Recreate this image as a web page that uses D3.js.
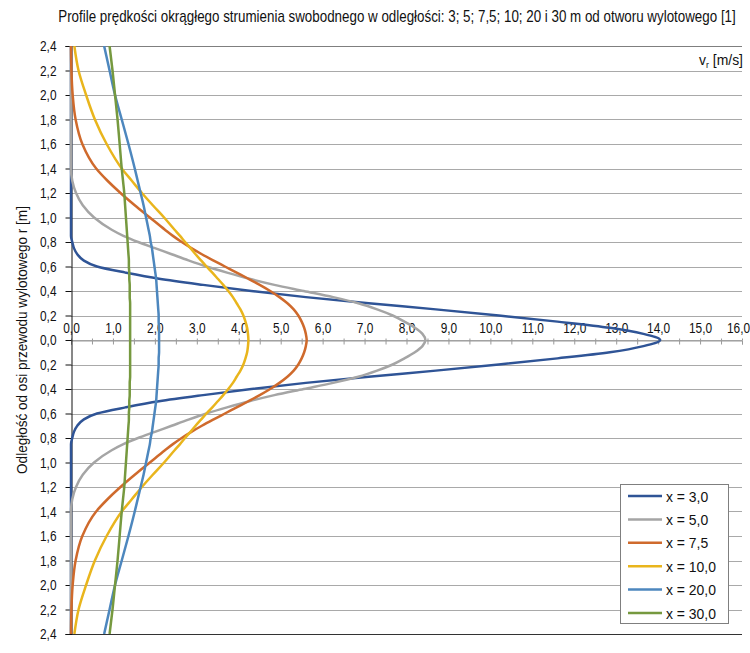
<!DOCTYPE html>
<html>
<head>
<meta charset="utf-8">
<script src="https://cdn.jsdelivr.net/npm/d3@7"></script>
<style>
  html, body { margin: 0; padding: 0; background: #fff; }
  svg { display: block; }
  text { font-family: "Liberation Sans", Arial, sans-serif; fill: #111; }
</style>
</head>
<body>
<svg id="chart" width="750" height="653"></svg>
<script>
// ---- Data ----
const titleText = "Profile prędkości okrągłego strumienia swobodnego w odległości: 3; 5; 7,5; 10; 20 i 30 m od otworu wylotowego [1]";
const yAxisTitle = "Odległość od osi przewodu wylotowego r [m]";
const seriesLabels = ["x = 3,0", "x = 5,0", "x = 7,5", "x = 10,0", "x = 20,0", "x = 30,0"];
const seriesColors = ["#2f5496", "#a5a5a5", "#cf6a2c", "#e9b51c", "#4d87be", "#76993f"];

// radial distance from the jet axis r [m] (profile is symmetric about r = 0)
const radii = [0, 0.05, 0.1, 0.15, 0.2, 0.25, 0.3, 0.35, 0.4, 0.45, 0.5, 0.55, 0.6, 0.65, 0.7, 0.75, 0.8, 0.85, 0.9, 1.0, 1.1, 1.2, 1.3, 1.4, 1.6, 1.8, 2.0, 2.2, 2.4];

// velocity v_r [m/s] at each radius
const vX3  = [14.05, 13.65, 12.85, 11.6, 10.2, 8.7, 7.1, 5.6, 4.3, 3.15, 2.1, 1.3, 0.62, 0.3, 0.15, 0.07, 0.03, 0, 0, 0, 0, 0, 0, 0, 0, 0, 0, 0, 0];
const vX5  = [8.45, 8.38, 8.2, 7.95, 7.67, 7.3, 6.85, 6.25, 5.55, 4.85, 4.25, 3.72, 3.23, 2.8, 2.4, 2.0, 1.6, 1.25, 0.97, 0.55, 0.28, 0.12, 0.03, 0, 0, 0, 0, 0, 0];
const vX75 = [5.62, 5.6, 5.56, 5.5, 5.42, 5.31, 5.16, 4.97, 4.75, 4.5, 4.23, 3.95, 3.67, 3.39, 3.12, 2.87, 2.64, 2.43, 2.24, 1.88, 1.52, 1.18, 0.87, 0.6, 0.27, 0.11, 0.04, 0.01, 0];
const vX10 = [4.23, 4.22, 4.2, 4.16, 4.11, 4.04, 3.95, 3.86, 3.75, 3.63, 3.5, 3.37, 3.23, 3.1, 2.97, 2.85, 2.72, 2.6, 2.47, 2.22, 1.95, 1.69, 1.45, 1.21, 0.85, 0.57, 0.36, 0.18, 0.08];
const vX20 = [2.1, 2.1, 2.1, 2.09, 2.09, 2.08, 2.07, 2.06, 2.05, 2.04, 2.03, 2.01, 1.99, 1.97, 1.95, 1.93, 1.9, 1.88, 1.85, 1.79, 1.73, 1.66, 1.59, 1.52, 1.37, 1.21, 1.05, 0.92, 0.79];
const vX30 = [1.41, 1.41, 1.41, 1.41, 1.41, 1.41, 1.41, 1.4, 1.4, 1.4, 1.39, 1.39, 1.38, 1.38, 1.37, 1.36, 1.35, 1.34, 1.33, 1.31, 1.29, 1.27, 1.24, 1.21, 1.16, 1.11, 1.05, 0.99, 0.92];
const seriesValues = [vX3, vX5, vX75, vX10, vX20, vX30];

const xTickValues = [0, 1, 2, 3, 4, 5, 6, 7, 8, 9, 10, 11, 12, 13, 14, 15, 16];
const xMinorTickValues = d3.range(0, 33).map(i => i * 0.5);
const yTickValues = d3.range(-12, 13).map(i => +(i * 0.2).toFixed(1));

// ---- Chart ----
const svg = d3.select("#chart");
const x = d3.scaleLinear().domain([0, 16]).range([71, 742]);
const y = d3.scaleLinear().domain([-2.4, 2.4]).range([634, 46]);
const fmt = d => Math.abs(d).toFixed(1).replace(".", ",");
const FONT = '"Liberation Sans", Arial, sans-serif';

// horizontally condense a text element (emulates a narrow typeface)
function condense(node, sx) {
  const sel = d3.select(node);
  const tx = +(sel.attr("x") || 0);
  const prev = sel.attr("transform") || "";
  sel.attr("x", 0).attr("transform", `${prev} translate(${tx},0) scale(${sx},1)`);
}
function fitWidth(node, w) {
  const len = node.getComputedTextLength();
  condense(node, w / len);
}

// title
const title = svg.append("text")
  .attr("x", 397).attr("y", 22)
  .attr("text-anchor", "middle")
  .style("font-size", "16px")
  .text(titleText);
fitWidth(title.node(), 678);

// horizontal gridlines
svg.append("g").selectAll("line")
  .data(yTickValues)
  .join("line")
  .attr("x1", x(0)).attr("x2", x(16))
  .attr("y1", d => Math.round(y(d)) + 0.5).attr("y2", d => Math.round(y(d)) + 0.5)
  .attr("stroke", d => d === 2.4 ? "#7f7f7f" : (d === -2.4 ? "#333" : "#a9a9a9"))
  .attr("stroke-width", 1);

// x axis at r = 0: minor tick marks
const xTicksG = svg.append("g")
  .attr("transform", `translate(0,${Math.round(y(0)) + 0.5})`)
  .call(d3.axisBottom(x).tickValues(xMinorTickValues).tickSize(4).tickFormat(""));
xTicksG.select(".domain").attr("stroke", "#9a9a9a");
xTicksG.selectAll(".tick line").attr("stroke", "#9a9a9a");
const xTicksUp = svg.append("g")
  .attr("transform", `translate(0,${Math.round(y(0)) + 0.5})`)
  .call(d3.axisTop(x).tickValues(xMinorTickValues).tickSize(2).tickFormat(""));
xTicksUp.select(".domain").remove();
xTicksUp.selectAll(".tick line").attr("stroke", "#9a9a9a");

// x axis labels (above the axis)
const xLab = svg.append("g")
  .attr("transform", `translate(0,${Math.round(y(0)) + 0.5})`)
  .call(d3.axisTop(x).tickValues(xTickValues).tickSize(0).tickPadding(8).tickFormat(fmt));
xLab.select(".domain").remove();
xLab.selectAll("text")
  .style("font-size", "14.5px")
  .style("font-family", FONT)
  .attr("fill", "#111")
  .each(function (d) { if (d === 16) d3.select(this).attr("x", -4); condense(this, 0.82); });

// y axis
const yAx = svg.append("g")
  .attr("transform", `translate(${x(0) + 0.5},0)`)
  .call(d3.axisLeft(y).tickValues(yTickValues).tickSize(6).tickPadding(9).tickFormat(fmt));
yAx.select(".domain").attr("stroke", "#111");
yAx.selectAll(".tick line").attr("stroke", "#111");
yAx.selectAll("text")
  .style("font-size", "14.5px")
  .style("font-family", FONT)
  .attr("fill", "#111")
  .each(function () { condense(this, 0.82); });

// y axis title
const yt = svg.append("text")
  .attr("transform", `translate(27,${y(0)}) rotate(-90)`)
  .attr("text-anchor", "middle")
  .style("font-size", "15px")
  .text(yAxisTitle);
fitWidth(yt.node(), 268);

// v_r [m/s] label
const vl = svg.append("text")
  .attr("x", 743).attr("y", 65)
  .attr("text-anchor", "end")
  .style("font-size", "15px");
vl.append("tspan").text("v");
vl.append("tspan").attr("dy", 3).style("font-size", "9.5px").text("r");
vl.append("tspan").attr("dy", -3).text(" [m/s]");
fitWidth(vl.node(), 44);

// curves
svg.append("clipPath").attr("id", "plotclip")
  .append("rect").attr("x", x(0) - 2).attr("y", y(2.4)).attr("width", x(16) - x(0) + 4).attr("height", y(-2.4) - y(2.4));

const line = d3.line()
  .x(d => x(d.v))
  .y(d => y(d.r))
  .curve(d3.curveMonotoneY);

seriesValues.forEach((vals, i) => {
  const upper = radii.map((r, j) => ({ r: r, v: vals[j] })).reverse();
  const lower = radii.slice(1).map((r, j) => ({ r: -r, v: vals[j + 1] }));
  svg.append("path")
    .datum(upper.concat(lower))
    .attr("clip-path", "url(#plotclip)")
    .attr("fill", "none")
    .attr("stroke", seriesColors[i])
    .attr("stroke-width", 2.5)
    .attr("stroke-linejoin", "round")
    .attr("d", line);
});

// legend
const lg = svg.append("g");
lg.append("rect")
  .attr("x", 620.5).attr("y", 484.5).attr("width", 108).attr("height", 139)
  .attr("fill", "#fff").attr("stroke", "#7f7f7f");
seriesLabels.forEach((lab, i) => {
  const ry = 496 + i * 23.4;
  lg.append("line")
    .attr("x1", 628).attr("x2", 662).attr("y1", ry).attr("y2", ry)
    .attr("stroke", seriesColors[i]).attr("stroke-width", 2.5);
  const t = lg.append("text")
    .attr("x", 666).attr("y", ry).attr("dy", "0.36em")
    .style("font-size", "15.5px")
    .text(lab);
  condense(t.node(), 0.9);
});
</script>
</body>
</html>
